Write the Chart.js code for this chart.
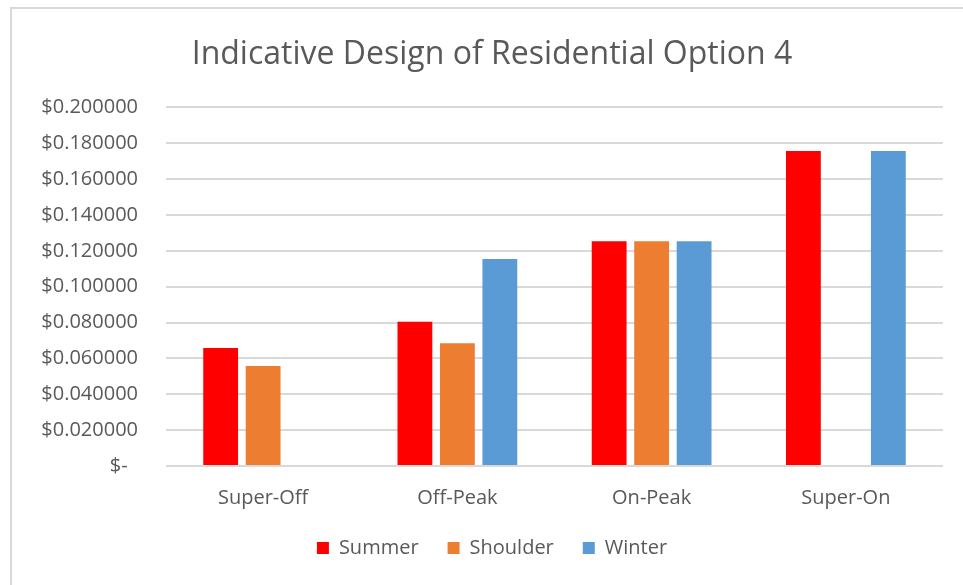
<!DOCTYPE html>
<html>
<head>
<meta charset="utf-8">
<script src="https://cdn.jsdelivr.net/npm/chart.js@4.4.1/dist/chart.umd.min.js"></script>
<style>
  html, body { margin: 0; padding: 0; background: #ffffff; }
  #wrap { position: relative; width: 963px; height: 585px; overflow: hidden; }
  #frame { position: absolute; left: 10px; top: 7px; width: 1000px; height: 700px;
           border-left: 2px solid #d9d9d9; border-top: 2px solid #d9d9d9; box-sizing: border-box; }
  canvas { position: absolute; left: 0; top: 0; }
</style>
</head>
<body>
<div id="wrap">
  <div id="frame"></div>
  <canvas id="c" width="963" height="585"></canvas>
</div>
<script>
const categories = ["Super-Off", "Off-Peak", "On-Peak", "Super-On"];
const summer   = [0.0658, 0.0805, 0.1254, 0.1757];
const shoulder = [0.0558, 0.0684, 0.1254, null];
const winter   = [null,   0.1154, 0.1254, 0.1757];
const seriesNames = ["Summer", "Shoulder", "Winter"];
const yTicks = [0, 0.02, 0.04, 0.06, 0.08, 0.10, 0.12, 0.14, 0.16, 0.18, 0.20];
const titleText = "Indicative Design of Residential Option 4";

const FONT = "'Open Sans', 'DejaVu Sans', sans-serif";
const GRAY = "#595959";

new Chart(document.getElementById("c"), {
  type: "bar",
  data: {
    labels: categories,
    datasets: [
      { label: seriesNames[0], data: summer,   backgroundColor: "#FF0000" },
      { label: seriesNames[1], data: shoulder, backgroundColor: "#ED7D31" },
      { label: seriesNames[2], data: winter,   backgroundColor: "#5B9BD5" }
    ]
  },
  options: {
    responsive: false,
    animation: false,
    devicePixelRatio: 1,
    layout: { padding: { left: 41, right: 20, top: 36, bottom: 17 } },
    datasets: { bar: { categoryPercentage: 0.656, barPercentage: 0.82 } },
    plugins: {
      title: {
        display: true, text: titleText, color: GRAY,
        font: { family: FONT, size: 32, weight: "normal" },
        padding: { top: 0, bottom: 33 }
      },
      legend: {
        position: "bottom",
        labels: {
          color: GRAY, boxWidth: 12, boxHeight: 12, padding: 29,
          font: { family: FONT, size: 20 }
        }
      },
      tooltip: { enabled: false }
    },
    scales: {
      x: {
        afterFit: (s) => { s.height = 43; },
        grid: { display: false, drawTicks: false },
        border: { display: false },
        ticks: { color: GRAY, padding: 20, autoSkip: false, maxRotation: 0, font: { family: FONT, size: 20 } }
      },
      y: {
        min: 0, max: 0.2,
        afterFit: (s) => { s.width = 125; },
        afterBuildTicks: (s) => { s.ticks = yTicks.map(v => ({ value: v })); },
        grid: { color: "#d9d9d9", lineWidth: 2, drawTicks: false },
        border: { display: false },
        ticks: {
          color: GRAY, padding: 28,
          font: { family: FONT, size: 20 },
          callback: (v) => v === 0 ? "$-  " : "$" + Number(v).toFixed(6)
        }
      }
    }
  }
});
</script>
</body>
</html>
